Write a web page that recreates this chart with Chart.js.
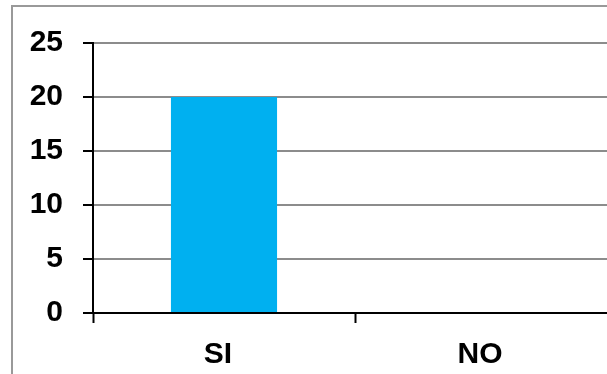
<!DOCTYPE html>
<html lang="es">
<head>
  <meta charset="UTF-8" />
  <title>SI / NO</title>
  <script src="https://cdn.jsdelivr.net/npm/chart.js"></script>
  <style>
    html, body { margin: 0; padding: 0; background: #fff; overflow: hidden; }
    #wrap { position: absolute; left: 0; top: 0; width: 620px; height: 374px; }
  </style>
</head>
<body>
  <div id="wrap"><canvas id="chart" width="620" height="374"></canvas></div>
  <script>
    const categories = ['SI', 'NO'];
    const answers = [20, 0];
    const yTicks = [0, 5, 10, 15, 20, 25];

    const labelFont = { family: 'Liberation Sans, Arial, sans-serif', size: 30, weight: 'bold' };

    // outer frame around the chart, runs off the right and bottom edges
    const frame = {
      id: 'frame',
      beforeDraw(chart) {
        const ctx = chart.ctx;
        ctx.save();
        ctx.strokeStyle = '#999999';
        ctx.lineWidth = 2;
        ctx.strokeRect(12, 6, 700, 500);
        ctx.restore();
      }
    };

    new Chart(document.getElementById('chart'), {
      type: 'bar',
      data: {
        labels: categories,
        datasets: [{
          data: answers,
          backgroundColor: '#00b0f0',
          borderWidth: 0,
          barPercentage: 0.405,
          categoryPercentage: 1
        }]
      },
      options: {
        responsive: false,
        animation: false,
        layout: { padding: { left: 0, top: 43, right: 3, bottom: 0 } },
        plugins: { legend: { display: false }, tooltip: { enabled: false } },
        scales: {
          x: {
            grid: { drawOnChartArea: false, drawTicks: true, tickLength: 10, tickColor: '#000', tickWidth: 2, offset: true },
            border: { color: '#000', width: 2 },
            ticks: { color: '#000', font: labelFont, padding: 14, maxRotation: 0, labelOffset: -6 },
            afterFit(s) { s.height = 61; }
          },
          y: {
            min: yTicks[0],
            max: yTicks[yTicks.length - 1],
            afterBuildTicks(s) { s.ticks = yTicks.map(v => ({ value: v })); },
            grid: {
              color: ctx => ctx.tick && ctx.tick.value === 0 ? '#000' : '#8c8c8c',
              lineWidth: 2,
              tickLength: 10,
              tickColor: '#000',
              tickWidth: 2
            },
            border: { color: '#000', width: 2 },
            ticks: { color: '#000', font: labelFont, padding: 20 },
            afterFit(s) { s.width = 93; }
          }
        }
      },
      plugins: [frame]
    });
  </script>
</body>
</html>
